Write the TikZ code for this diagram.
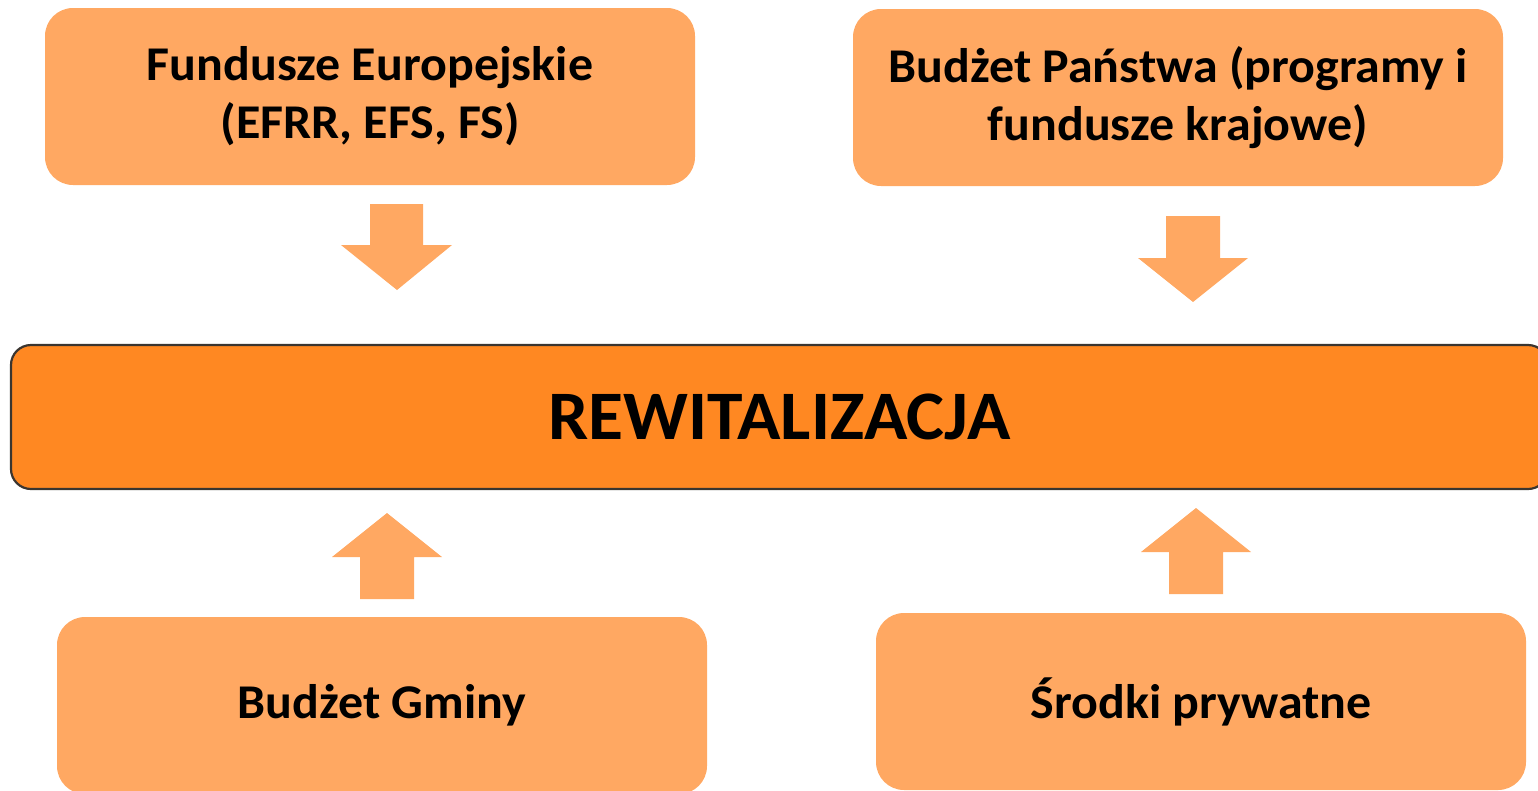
\documentclass[tikz,border=0pt]{standalone}
\usepackage{fontspec}
\setmainfont{Carlito}[FakeStretch=1.03]
\definecolor{boxlight}{HTML}{FFA862}
\definecolor{boxdark}{HTML}{FF8822}
\definecolor{edgedark}{HTML}{3A3530}
\tikzset{
  x=1pt, y=-1pt,
  srcbox/.style={fill=boxlight, draw=none, rounded corners=28pt, minimum width=650pt, minimum height=177pt,
    align=center, font=\fontsize{48.5}{58}\selectfont\bfseries, inner sep=0pt},
  mainbox/.style={fill=boxdark, draw=edgedark, line width=2.2pt, rounded corners=20pt, minimum width=1537pt, minimum height=144pt,
    font=\fontsize{69.5}{74}\selectfont\bfseries, inner sep=0pt},
  blockarrow/.style={fill=boxlight, draw=none}
}
\begin{document}
\begin{tikzpicture}
\useasboundingbox (0,0) rectangle (1538,790);
\clip (0,0) rectangle (1538,790);
\node[srcbox] (eu) at (370,96.5) {Fundusze Europejskie\\(EFRR, EFS, FS)};
\node[srcbox] (bp) at (1178,97.5) {Budżet Państwa (programy i\\fundusze krajowe)};
\node[srcbox] (bg) at (382,705.5) {Budżet Gminy};
\node[srcbox] (sp) at (1201,701.5) {Środki prywatne};
\node[mainbox] (rew) at (779.5,417) {REWITALIZACJA};
% block arrows
\fill[blockarrow] (370,204) -- (423,204) -- (423,245) -- (452,245) -- (397,290) -- (341,245) -- (370,245) -- cycle;
\fill[blockarrow] (1166,216) -- (1220,216) -- (1220,258) -- (1248,258) -- (1193,302) -- (1138,258) -- (1166,258) -- cycle;
\fill[blockarrow] (360,599) -- (414,599) -- (414,557) -- (442,557) -- (387,513) -- (332,557) -- (360,557) -- cycle;
\fill[blockarrow] (1169,594) -- (1223,594) -- (1223,552) -- (1251,552) -- (1196,508) -- (1141,552) -- (1169,552) -- cycle;
\end{tikzpicture}
\end{document}
